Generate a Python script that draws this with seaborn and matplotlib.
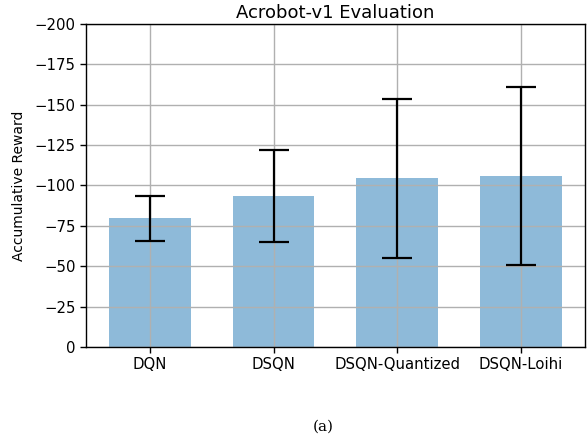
import pandas as pd
import seaborn as sns
import matplotlib.pyplot as plt

## Data
models = ['DQN', 'DSQN', 'DSQN-Quantized', 'DSQN-Loihi']
mean_reward = [-79.5, -93.4, -104.3, -106.0]
std_reward = [14.0, 28.6, 49.5, 55.0]

df = pd.DataFrame({'model': models, 'reward': mean_reward, 'std': std_reward})

sns.set_style('whitegrid')
plt.rcParams['font.family'] = ['DejaVu Sans']
plt.rcParams['text.color'] = 'black'
plt.rcParams['axes.labelcolor'] = 'black'
plt.rcParams['xtick.color'] = 'black'
plt.rcParams['ytick.color'] = 'black'

fig = plt.figure(figsize=(5.88, 4.43), dpi=100)
ax = fig.add_axes([0.146, 0.217, 0.849, 0.729])

sns.barplot(data=df, x='model', y='reward', color='#1f77b4', alpha=0.5,
            saturation=1, width=0.66, linewidth=0, errorbar=None, ax=ax)
ax.errorbar(range(len(models)), df['reward'], yerr=df['std'], fmt='none',
            ecolor='black', elinewidth=1.6, capsize=11, capthick=1.6, zorder=3)

## Styling
ax.set_ylim(0, -200)
ax.set_yticks(range(0, -201, -25))
ax.set_xlim(-0.52, 3.52)
ax.set_axisbelow(False)
ax.grid(True, color='#b0b0b0', linewidth=1)
for s in ax.spines.values():
    s.set_color('black')
    s.set_linewidth(1)
    s.set_zorder(4)
ax.tick_params(axis='both', length=4, width=1, color='black', labelsize=10.7,
               left=True, bottom=True)
ax.set_xlabel('')
ax.set_ylabel('Accumulative Reward', fontsize=10, labelpad=6)
ax.set_title('Acrobot-v1 Evaluation', fontsize=13, pad=4)

fig.text(0.549, 0.028, '(a)', family='DejaVu Serif', fontsize=11, ha='center')

plt.savefig('out.png', dpi=100)
